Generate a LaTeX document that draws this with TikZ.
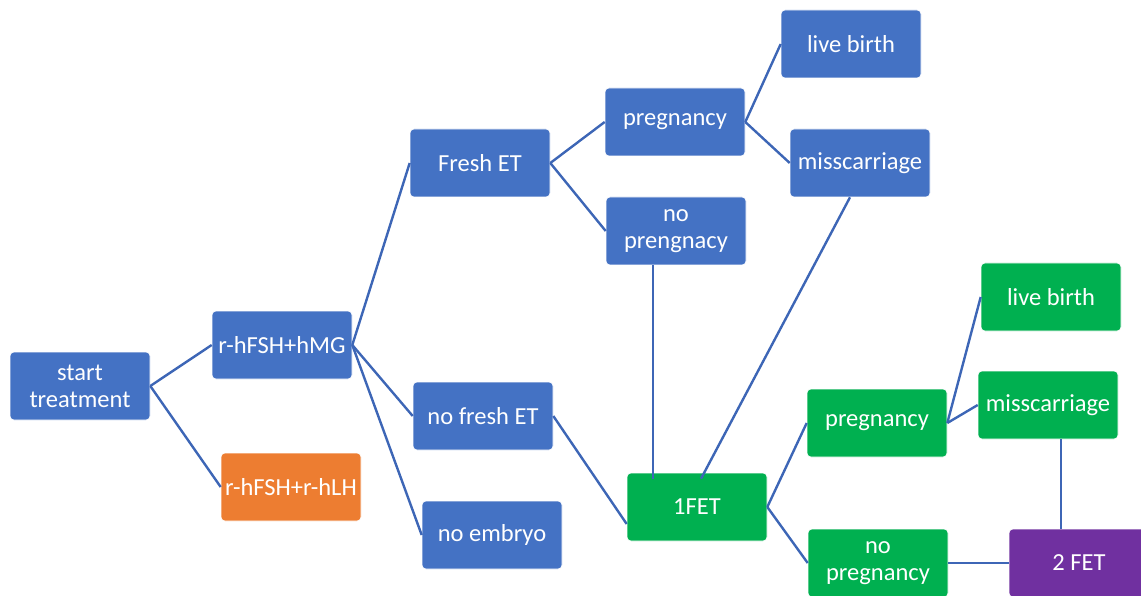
\documentclass[tikz,border=0pt]{standalone}
\usepackage{fontspec}
\setmainfont{Carlito}
\usetikzlibrary{positioning, calc}
\definecolor{BoxBlue}{RGB}{68, 114, 196}
\definecolor{BoxOrange}{RGB}{237, 125, 49}
\definecolor{BoxGreen}{RGB}{0, 176, 80}
\definecolor{BoxPurple}{RGB}{112, 48, 160}
\definecolor{LinkBlue}{RGB}{61, 102, 182}

\tikzset{
  stepbox/.style={rectangle, rounded corners=4pt, draw=white, line width=0.6pt,
    minimum width=140pt, minimum height=68pt, inner sep=1pt, align=center,
    text=white, font=\fontsize{24.5}{27}\selectfont},
  bluebox/.style={stepbox, fill=BoxBlue},
  greenbox/.style={stepbox, fill=BoxGreen},
  link/.style={draw=LinkBlue, line width=2.4pt}
}

\begin{document}
\begin{tikzpicture}[x=1pt, y=-1pt]
    \useasboundingbox (0,0) rectangle (1141,596);
    \clip (0,0) rectangle (1141,596);

    % first stage
    \node[bluebox] (start) at (80,386) {start\\treatment};
    \node[bluebox] (hmg) at (282,345) {r-hFSH+hMG};
    \node[stepbox, fill=BoxOrange] (rlh) at (291,487) {r-hFSH+r-hLH};

    % after stimulation
    \node[bluebox] (fresh) at (480,163) {Fresh ET};
    \node[bluebox] (nofresh) at (483,416) {no fresh ET};
    \node[bluebox] (noemb) at (492,535) {no embryo};

    % fresh transfer outcomes
    \node[bluebox] (preg) at (675,122) {pregnancy};
    \node[bluebox] (nopreg) at (676,231) {no\\prengnacy};
    \node[bluebox] (birth) at (851,44) {live birth};
    \node[bluebox] (miss) at (860,163) {misscarriage};

    % frozen transfers
    \node[greenbox] (fet) at (697,507) {1FET};
    \node[greenbox] (fpreg) at (877,423) {pregnancy};
    \node[greenbox] (fnopreg) at (878,563) {no\\pregnancy};
    \node[greenbox] (fbirth) at (1051,297) {live birth};
    \node[greenbox] (fmiss) at (1048,405) {misscarriage};
    \node[stepbox, fill=BoxPurple] (fet2) at (1079,563) {2 FET};

    \draw[link] (start.east) -- (hmg.west);
    \draw[link] (start.east) -- (rlh.west);
    \draw[link] (hmg.east) -- (fresh.west);
    \draw[link] (hmg.east) -- (nofresh.west);
    \draw[link] (hmg.east) -- (noemb.west);
    \draw[link] (fresh.east) -- (preg.west);
    \draw[link] (fresh.east) -- (nopreg.west);
    \draw[link] (preg.east) -- (birth.west);
    \draw[link] (preg.east) -- (miss.west);
    \draw[link] ([xshift=-23pt]nopreg.south) -- ([xshift=-44pt,yshift=-6pt]fet.north);
    \draw[link] ([xshift=-10pt]miss.south) -- ([xshift=4pt,yshift=-6pt]fet.north);
    \draw[link] (nofresh.east) -- ([yshift=-17pt]fet.west);
    \draw[link] (fet.east) -- (fpreg.west);
    \draw[link] (fet.east) -- (fnopreg.west);
    \draw[link] (fpreg.east) -- (fbirth.west);
    \draw[link] (fpreg.east) -- (fmiss.west);
    \draw[link] ([xshift=13pt]fmiss.south) -- ([xshift=-18pt]fet2.north);
    \draw[link] (fnopreg.east) -- (fet2.west);
  \end{tikzpicture}
\end{document}
